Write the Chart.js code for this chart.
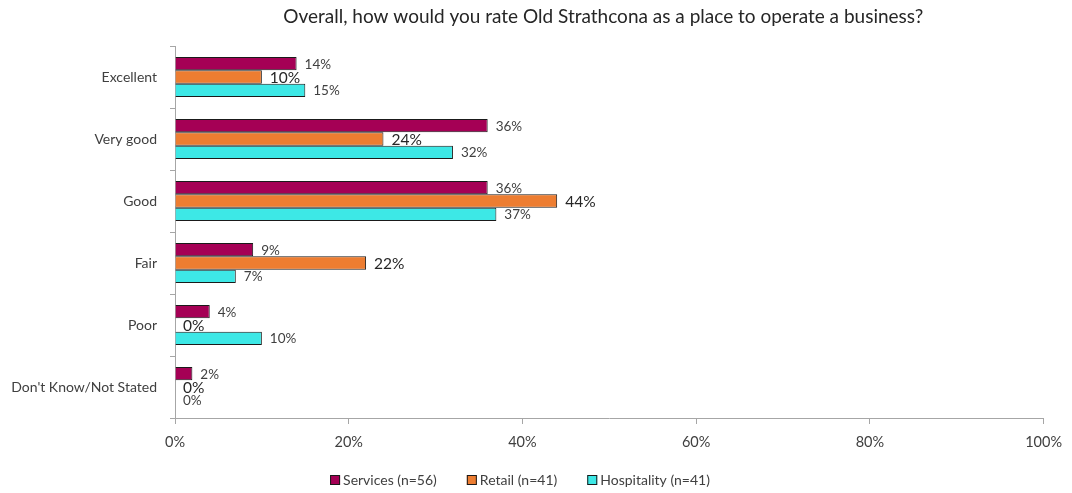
<!DOCTYPE html>
<html>
<head>
<meta charset="utf-8">
<script src="https://cdn.jsdelivr.net/npm/chart.js@4"></script>
<style>
  html, body { margin: 0; padding: 0; background: #fff; }
  #wrap { width: 1072px; height: 493px; }
</style>
</head>
<body>
<div id="wrap"><canvas id="chart" width="1072" height="493"></canvas></div>
<script>
// Ratings (categories) and share of respondents per sector, in %
const categories = ['Excellent', 'Very good', 'Good', 'Fair', 'Poor', "Don't Know/Not Stated"];
const services = [14, 36, 36, 9, 4, 2];
const retail = [10, 24, 44, 22, 0, 0];
const hospitality = [15, 32, 37, 7, 10, 0];
const seriesNames = ['Services (n=56)', 'Retail (n=41)', 'Hospitality (n=41)'];
const xTicks = [0, 20, 40, 60, 80, 100];
const chartTitle = 'Overall, how would you rate Old Strathcona as a place to operate a business?';

const FONT = 'Lato, "Open Sans", sans-serif';

// draws the value next to the end of every bar
const barLabels = {
    id: 'barLabels',
    afterDatasetsDraw(chart) {
        const ctx = chart.ctx;
        ctx.save();
        ctx.textBaseline = 'middle';
        ctx.textAlign = 'left';
        chart.data.datasets.forEach((ds, i) => {
            const meta = chart.getDatasetMeta(i);
            const big = i === 1;
            ctx.font = (big ? '15.5px ' : '13.5px ') + FONT;
            ctx.fillStyle = big ? '#262626' : '#404040';
            meta.data.forEach((bar, j) => {
                ctx.fillText(ds.data[j] + '%', bar.x + 8, bar.y + (big ? 1 : 0.5));
            });
        });
        ctx.restore();
    }
};

// title over the plot and a spaced-out legend under the axis
const titleAndLegend = {
    id: 'titleAndLegend',
    afterDraw(chart) {
        const ctx = chart.ctx;
        const area = chart.chartArea;
        ctx.save();
        ctx.textBaseline = 'middle';
        ctx.fillStyle = '#262626';
        ctx.font = '19px ' + FONT;
        ctx.textAlign = 'center';
        ctx.fillText(chartTitle, (area.left + area.right) / 2 - 6, 17);

        ctx.font = '14px ' + FONT;
        ctx.textAlign = 'left';
        const box = 10, gap = 3, spacing = 30, y = 480;
        const items = chart.data.datasets.map(ds => ({ ds, w: box + gap + ctx.measureText(ds.label).width }));
        const total = items.reduce((s, it) => s + it.w, 0) + spacing * (items.length - 1);
        let x = 520 - total / 2;
        items.forEach(({ ds, w }) => {
            ctx.fillStyle = ds.backgroundColor;
            ctx.fillRect(x, y - box / 2, box, box);
            ctx.strokeStyle = '#1a1a1a';
            ctx.lineWidth = 1;
            ctx.strokeRect(x + 0.5, y - box / 2 + 0.5, box - 1, box - 1);
            ctx.fillStyle = '#404040';
            ctx.fillText(ds.label, x + box + gap, y);
            x += w + spacing;
        });
        ctx.restore();
    }
};

new Chart(document.getElementById('chart'), {
    type: 'bar',
    data: {
        labels: categories,
        datasets: [
            { label: seriesNames[0], data: services, backgroundColor: '#A50055' },
            { label: seriesNames[1], data: retail, backgroundColor: '#ED7D31' },
            { label: seriesNames[2], data: hospitality, backgroundColor: '#3DE8E6' }
        ]
    },
    options: {
        indexAxis: 'y',
        responsive: false,
        animation: false,
        datasets: {
            bar: { borderWidth: 1, borderColor: '#1a1a1a', categoryPercentage: 0.645, barPercentage: 1.0 }
        },
        layout: { autoPadding: false, padding: { left: 0, right: 26, top: 46, bottom: 0 } },
        scales: {
            x: {
                min: 0,
                max: 100,
                afterBuildTicks: (s) => { s.ticks = xTicks.map(v => ({ value: v })); },
                border: { color: '#A6A6A6' },
                grid: { drawOnChartArea: false, tickLength: 6, color: '#A6A6A6' },
                ticks: { color: '#404040', font: { size: 14.5, family: FONT }, padding: 10, callback: v => v + '%' },
                afterFit: (s) => { s.height = 75; }
            },
            y: {
                border: { color: '#A6A6A6' },
                grid: { drawOnChartArea: false, offset: true, tickLength: 5, color: '#A6A6A6' },
                ticks: { color: '#404040', font: { size: 14, family: FONT }, padding: 13 },
                afterFit: (s) => { s.width = 175; }
            }
        },
        plugins: {
            title: { display: false },
            legend: { display: false },
            tooltip: { enabled: false }
        }
    },
    plugins: [barLabels, titleAndLegend]
});
</script>
</body>
</html>
